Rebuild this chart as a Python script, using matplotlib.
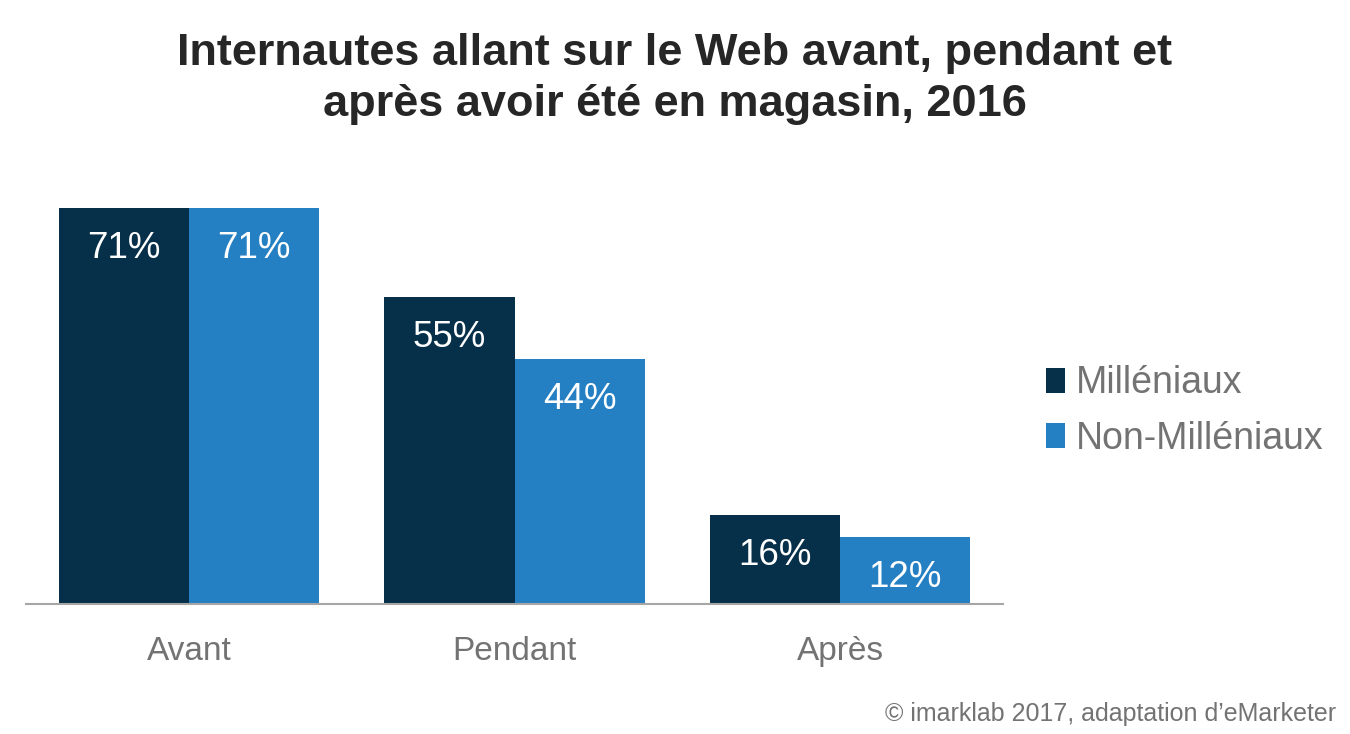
import matplotlib
matplotlib.use("Agg")
import matplotlib.pyplot as plt
from matplotlib.patches import Patch

plt.rcParams['font.family'] = ['Liberation Sans', 'DejaVu Sans']

categories = ["Avant", "Pendant", "Après"]
series_names = ["Milléniaux", "Non-Milléniaux"]
millenials = [71, 55, 16]
non_millenials = [71, 44, 12]
colors = ["#063049", "#2580C3"]

W, H = 1350, 734
fig = plt.figure(figsize=(W / 100, H / 100), dpi=100)
ax = fig.add_axes([26 / W, (H - 604) / H, (1003 - 26) / W, (604 - 208) / H])

width = 0.4
x = list(range(len(categories)))
for i, (vals, col) in enumerate(zip([millenials, non_millenials], colors)):
    offs = -width / 2 if i == 0 else width / 2
    xs = [xi + offs for xi in x]
    ax.bar(xs, vals, width=width, color=col, edgecolor='none', label=series_names[i], clip_on=False)
    for xx, v in zip(xs, vals):
        ax.text(xx, v - 7.3, f"{v}%", ha='center', va='center', color='white', fontsize=26.5)

ax.set_xlim(-0.5, 2.5)
ax.set_ylim(0, 71)
for s in ['top', 'right', 'left']:
    ax.spines[s].set_visible(False)
ax.spines['bottom'].set_color('#a6a6a6')
ax.spines['bottom'].set_linewidth(1.5)
ax.set_yticks([])
ax.set_xticks(x)
ax.set_xticklabels(categories, fontsize=24, color='#737373')
ax.tick_params(axis='x', length=0, pad=23)

fig.text(0.5, 1 - 79 / H, "Internautes allant sur le Web avant, pendant et\naprès avoir été en magasin, 2016",
         ha='center', va='center', fontsize=32.5, fontweight='bold', color='#262626', linespacing=1.31)
fig.text(1336 / W, 1 - 714 / H, "© imarklab 2017, adaptation d’eMarketer", ha='right', va='center',
         fontsize=18, color='#737373')

handles = [Patch(facecolor=c, edgecolor='none') for c in colors]
leg = fig.legend(handles, series_names, loc='center left', bbox_to_anchor=(1046 / W, 1 - 411 / H),
                 frameon=False, fontsize=27, handlelength=0.5, handleheight=0.65, handletextpad=0.3,
                 labelspacing=0.52, borderpad=0, borderaxespad=0)
for t in leg.get_texts():
    t.set_color('#737373')

fig.savefig("out.png", dpi=100)
